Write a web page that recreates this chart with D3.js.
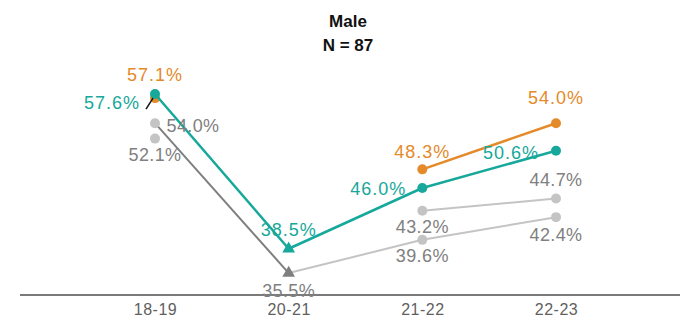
<!DOCTYPE html>
<html><head><meta charset="utf-8">
<script src="https://cdn.jsdelivr.net/npm/d3@7"></script>
<style>body{margin:0;background:#fff}svg{display:block}</style>
</head><body><svg id="c" width="680" height="320"></svg>
<script>
const categories = ["18-19", "20-21", "21-22", "22-23"];
const teal   = [57.6, 38.5, 46.0, 50.6];
const orange = [57.1, null, 48.3, 54.0];
const grayA  = [54.0, 35.5, 39.6, 42.4];
const grayB  = [52.1, null, 43.2, 44.7];
const title = ["Male", "N = 87"];

// label offsets (dx, dy from point) - layout only
const offTeal   = [[-43, 15], [0, -13], [-44, 7], [-45, 8]];
const offOrange = [[0, -17], null, [0, -11], [0, -19]];
const offGrayA  = [[38, 9], [0, 24], [0, 22], [0, 24]];
const offGrayB  = [[0, 22], null, [0, 22], [0, -13]];

const C = {teal:"#16a89a", orange:"#e48a2a", dark:"#7f7f7f", light:"#c4c4c4", lbl:"#808080", tick:"#5f5f5f"};

const svg = d3.select("#c");
const x = d3.scalePoint().domain(categories).range([155, 556]);
const y = d3.scaleLinear().domain([30, 60]).range([317.6, 74.6]);

// axis
const axis = d3.axisBottom(x).tickSize(0).tickPadding(10);
const gAx = svg.append("g").attr("transform", "translate(0,295)").call(axis);
gAx.select(".domain").remove();
gAx.selectAll("text").attr("font-family", "Liberation Sans, Arial, sans-serif").attr("font-size", 16)
  .attr("fill", C.tick).attr("letter-spacing", 0.5).attr("dy", "0.62em");
svg.append("line").attr("x1", 20).attr("x2", 680).attr("y1", 295).attr("y2", 295)
  .attr("stroke", "#7a7a7a").attr("stroke-width", 2);

function segs(vals, colorFn, width) {
  const g = svg.append("g");
  for (let i = 0; i < vals.length - 1; i++) {
    if (vals[i] == null || vals[i + 1] == null) continue;
    g.append("line")
      .attr("x1", x(categories[i])).attr("y1", y(vals[i]))
      .attr("x2", x(categories[i + 1])).attr("y2", y(vals[i + 1]))
      .attr("stroke", colorFn(i)).attr("stroke-width", width);
  }
}
function markers(vals, colorFn, shapeFn) {
  const g = svg.append("g");
  vals.forEach((v, i) => {
    if (v == null) return;
    const cx = x(categories[i]), cy = y(v);
    if (shapeFn(i) === "tri") {
      g.append("path").attr("d", d3.symbol(d3.symbolTriangle, 70)())
        .attr("transform", `translate(${cx},${cy})`).attr("fill", colorFn(i));
    } else {
      g.append("circle").attr("cx", cx).attr("cy", cy).attr("r", 5).attr("fill", colorFn(i));
    }
  });
}
function labels(vals, offs, color, ls) {
  const g = svg.append("g");
  vals.forEach((v, i) => {
    if (v == null || !offs[i]) return;
    g.append("text").attr("x", x(categories[i]) + offs[i][0]).attr("y", y(v) + offs[i][1])
      .attr("text-anchor", "middle").attr("font-family", "Liberation Sans, Arial, sans-serif")
      .attr("font-size", 18).attr("letter-spacing", ls).attr("fill", color)
      .text(v.toFixed(1) + "%");
  });
}

// gray series
segs(grayB, () => C.light, 2);
segs(grayA, i => i === 0 ? C.dark : C.light, 2);
markers(grayB, () => C.light, () => "c");
markers(grayA, i => i === 1 ? C.dark : C.light, i => i === 1 ? "tri" : "c");

// orange then teal
segs(orange, () => C.orange, 2.5);
markers(orange, () => C.orange, () => "c");
segs(teal, () => C.teal, 2.5);
markers(teal, () => C.teal, i => i === 1 ? "tri" : "c");

// leader line
svg.append("line").attr("x1", x(categories[0]) - 9).attr("y1", y(teal[0]) + 15)
  .attr("x2", x(categories[0]) - 2).attr("y2", y(teal[0]) + 4)
  .attr("stroke", "#111").attr("stroke-width", 1.5);

labels(grayA, offGrayA, C.lbl, 0.4);
labels(grayB, offGrayB, C.lbl, 0.4);
labels(orange, offOrange, C.orange, 1);
labels(teal, offTeal, C.teal, 1);

// title
svg.append("g").selectAll("text").data(title).join("text")
  .attr("x", 348).attr("y", (d, i) => 27 + i * 24)
  .attr("text-anchor", "middle").attr("font-family", "Liberation Sans, Arial, sans-serif")
  .attr("font-weight", "bold").attr("font-size", 17).attr("fill", "#111").text(d => d);
</script></body></html>
